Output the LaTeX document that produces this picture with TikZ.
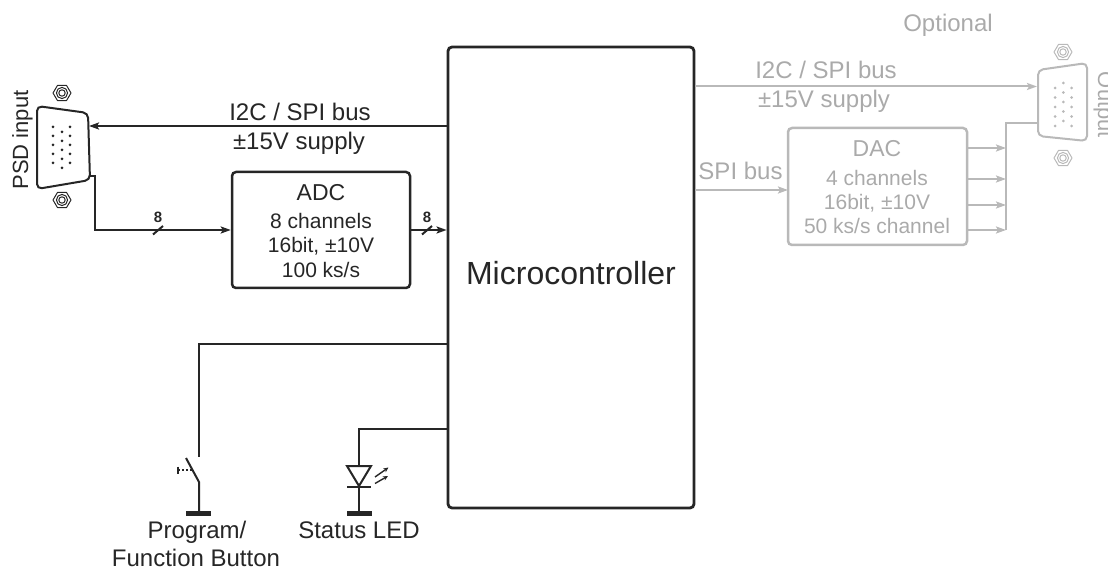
\documentclass[tikz,border=0pt]{standalone}
\usepackage{fontspec}
\setmainfont{Liberation Sans}
\usetikzlibrary{arrows.meta,shapes.geometric,calc}
\definecolor{ink}{RGB}{38,38,38}
\definecolor{lg}{RGB}{185,185,185}
\definecolor{tg}{RGB}{170,170,170}
\newcommand\myscrew[4]{%
  \coordinate (#1) at (#2,#3);
  \draw[#4,line width=1pt,line join=round] ($(#1)+(9,0)$) -- ($(#1)+(4.5,7.6)$) -- ($(#1)+(-4.5,7.6)$)
     -- ($(#1)+(-9,0)$) -- ($(#1)+(-4.5,-7.6)$) -- ($(#1)+(4.5,-7.6)$) -- cycle;
  \draw[#4,line width=1pt] (#1) circle[radius=5.6pt];
  \draw[#4,line width=1pt] (#1) circle[radius=3.2pt];
}
\begin{document}
\begin{tikzpicture}[x=1pt,y=-1pt,
  blk/.style={draw=ink, line width=2pt},
  gry/.style={draw=lg, line width=2pt},
  tipb/.style={-{Stealth[length=10pt,width=7pt,inset=2pt]}},
  bigbox/.style={draw=ink, line width=2.8pt, rounded corners=4pt, inner sep=0pt},
  adcbox/.style={draw=#1, line width=2.5pt, rounded corners=4pt, inner sep=0pt,
    minimum width=178pt, minimum height=116pt},
  lab/.style={font=\fontsize{24}{28}\selectfont, text=ink, inner sep=0pt, anchor=base},
  glab/.style={lab, text=tg},
  sml/.style={font=\fontsize{21}{24}\selectfont, text=ink, inner sep=0pt, anchor=base},
  gsml/.style={sml, text=tg},
  bus/.style={font=\bfseries\fontsize{15}{17}\selectfont, text=ink, inner sep=0pt, anchor=base},
]
\useasboundingbox (0,0) rectangle (1108,569);

% ---------- Microcontroller ----------
\node[bigbox, minimum width=246pt, minimum height=461pt] (mc) at (571,277.5) {};
\node[font=\fontsize{32}{36}\selectfont, text=ink, inner sep=0pt, anchor=base] (mct) at (571,285) {Microcontroller};

% ---------- PSD input connector ----------
\draw[ink, line width=2pt, rounded corners=5pt] (37,106) -- (88,113) -- (90,180) -- (37,189) -- cycle;
\foreach \yy in {127,136,145,154,163} {
  \fill[ink] (53,\yy) circle[radius=1.5pt];
  \fill[ink] (70,\yy) circle[radius=1.5pt];
}
\foreach \yy in {132,141,150,159,168} {
  \fill[ink] (62,\yy) circle[radius=1.5pt];
}
\myscrew{psdS1}{62}{93}{ink}
\myscrew{psdS2}{62}{200}{ink}
\node[lab, rotate=90, font=\fontsize{22}{26}\selectfont] (psdlab) at (28,140) {PSD input};
\coordinate (psdA) at (89,126);
\coordinate (psdB) at (90,176);
\coordinate (psdC) at (95,230);

% ---------- ADC ----------
\node[adcbox=ink] (adc) at (321,230) {};
\node[lab, font=\fontsize{23}{26}\selectfont] (adct) at (321,201) {ADC};
\node[sml] (adc1) at (321,229) {8 channels};
\node[sml] (adc2) at (321,253) {16bit, ±10V};
\node[sml] (adc3) at (321,277) {100 ks/s};

% connections left
\draw[blk, tipb] (mc.west |- psdA) -- (psdA);
\node[lab] (bus1) at (300,121) {I2C / SPI bus};
\node[lab] (sup1) at (299,150) {±15V supply};

\draw[blk, tipb] (psdB) -| (psdC) -- (adc.west);
\draw[blk] (153,234.5) -- (163,226);
\node[bus] (b8a) at (158,223) {8};

\draw[blk, tipb] (adc.east) -- (adc.east -| mc.west);
\draw[blk] (422,234.5) -- (432,226);
\node[bus] (b8b) at (427,223) {8};

% ---------- Button ----------
\coordinate (btnCorner) at (199,344);
\coordinate (btnTop) at (199,457);
\coordinate (bladeA) at (186,458);
\coordinate (bladeB) at (199,482);
\coordinate (btnGnd) at (199,513);
\draw[blk] (mc.west |- btnCorner) -- (btnCorner) -- (btnTop);
\draw[blk] (bladeA) -- (bladeB) -- (btnGnd);
\draw[ink, line width=5pt] (186,513) -- (211,513);
\draw[ink, line width=1.5pt, dash pattern=on 2pt off 2pt] (178,470) -- (192,470);
\draw[ink, line width=1.5pt] (178,466.5) -- (178,473.5);
\node[lab] (btnl1) at (197,538) {Program/};
\node[lab] (btnl2) at (196,566) {Function Button};

% ---------- LED ----------
\coordinate (ledCorner) at (359,429);
\coordinate (ledTop) at (359,466);
\coordinate (ledBar) at (359,487);
\coordinate (ledGnd) at (359,513);
\draw[blk] (mc.west |- ledCorner) -- (ledCorner) -- (ledTop);
\draw[ink, line width=2pt, line join=miter] (347,466) -- (371,466) -- (359,486) -- cycle;
\draw[blk] (347,487) -- (371,487);
\draw[blk] (ledBar) -- (ledGnd);
\draw[ink, line width=5pt] (347,513) -- (372,513);
\draw[ink, line width=1.4pt, -{Stealth[length=5pt,width=4.5pt]}] (375,477) -- (388.5,467.5);
\draw[ink, line width=1.4pt, -{Stealth[length=5pt,width=4.5pt]}] (375,483.5) -- (388,476);
\node[lab] (ledl) at (359,538) {Status LED};

% ---------- Optional (right) ----------
\node[glab] (opt) at (948,31.5) {Optional};

% output connector
\draw[lg, line width=2pt, rounded corners=5pt] (1038,70) -- (1087,63) -- (1087,141) -- (1038,136) -- cycle;
\foreach \yy in {88,97.5,107,116.5,126} {
  \fill[lg] (1055,\yy) circle[radius=1.5pt];
  \fill[lg] (1071.5,\yy) circle[radius=1.5pt];
}
\foreach \yy in {83,92.5,102,111.5,121} {
  \fill[lg] (1063.3,\yy) circle[radius=1.5pt];
}
\myscrew{outS1}{1063}{52}{lg}
\myscrew{outS2}{1063}{158}{lg}
\node[glab, rotate=-90, font=\fontsize{22}{26}\selectfont] (outlab) at (1098,105) {Output};
\coordinate (outA) at (1037,86.5);
\coordinate (outB) at (1038,123);
\coordinate (junc) at (1006,123);
\coordinate (juncB) at (1006,230);

\draw[gry, tipb] (mc.east |- outA) -- (outA);
\node[glab] (bus2) at (826,79) {I2C / SPI bus};
\node[glab] (sup2) at (824,108) {±15V supply};

% DAC
\node[adcbox=lg, minimum width=179pt, minimum height=117pt] (dac) at (877.5,186.5) {};
\node[glab, font=\fontsize{23}{26}\selectfont] (dact) at (877,157) {DAC};
\node[gsml] (dac1) at (877,185.5) {4 channels};
\node[gsml] (dac2) at (877,210) {16bit, ±10V};
\node[gsml] (dac3) at (877,234) {50 ks/s channel};

\coordinate (dacIn) at (788,190);
\draw[gry, tipb] (mc.east |- dacIn) -- (dacIn);
\node[glab] (spil) at (740.5,180) {SPI bus};

\foreach \yy in {148,179,205,230} {
  \draw[gry, tipb] (dac.east |- 0,\yy) -- (1006,\yy);
}
\draw[gry] (juncB) -- (junc) -- (outB);
\end{tikzpicture}
\end{document}
